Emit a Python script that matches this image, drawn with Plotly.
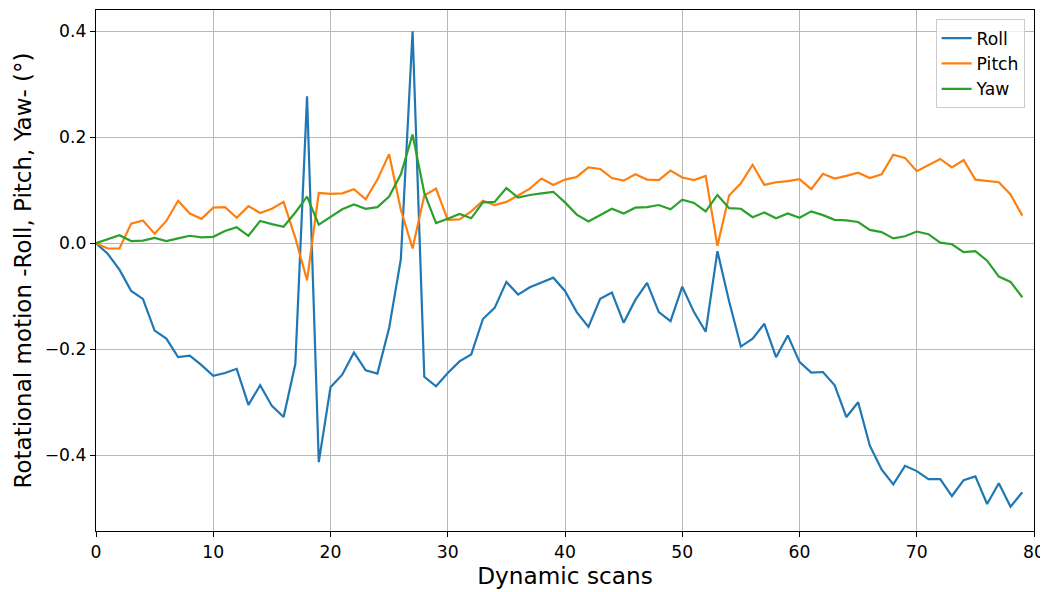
import plotly.graph_objects as go

scans = list(range(80))
roll = [0, -0.02, -0.05, -0.09, -0.105, -0.165, -0.18, -0.215, -0.212, -0.23,
        -0.25, -0.245, -0.237, -0.305, -0.268, -0.307, -0.328, -0.228, 0.277, -0.413,
        -0.272, -0.248, -0.206, -0.24, -0.246, -0.16, -0.03, 0.4, -0.252, -0.27,
        -0.245, -0.223, -0.21, -0.143, -0.122, -0.073, -0.097, -0.083, -0.074, -0.065,
        -0.09, -0.13, -0.158, -0.105, -0.093, -0.15, -0.107, -0.075, -0.13, -0.147,
        -0.082, -0.13, -0.167, -0.015, -0.11, -0.195, -0.18, -0.152, -0.215, -0.174,
        -0.224, -0.244, -0.243, -0.268, -0.328, -0.3, -0.382, -0.427, -0.455, -0.42,
        -0.43, -0.445, -0.445, -0.477, -0.447, -0.44, -0.492, -0.453, -0.497, -0.47]
pitch = [0, -0.01, -0.01, 0.037, 0.043, 0.018, 0.042, 0.08, 0.056, 0.046,
         0.067, 0.068, 0.048, 0.07, 0.057, 0.065, 0.078, 0.01, -0.07, 0.095,
         0.093, 0.094, 0.102, 0.083, 0.12, 0.168, 0.063, -0.01, 0.09, 0.103,
         0.044, 0.045, 0.06, 0.08, 0.072, 0.078, 0.09, 0.103, 0.122, 0.11,
         0.12, 0.125, 0.143, 0.14, 0.123, 0.118, 0.13, 0.12, 0.119, 0.137,
         0.124, 0.119, 0.127, -0.005, 0.09, 0.113, 0.148, 0.11, 0.115, 0.117,
         0.121, 0.102, 0.131, 0.122, 0.127, 0.133, 0.123, 0.13, 0.167, 0.161,
         0.136, 0.147, 0.159, 0.143, 0.157, 0.12, 0.118, 0.115, 0.092, 0.052]
yaw = [0, 0.008, 0.015, 0.004, 0.005, 0.01, 0.004, 0.009, 0.014, 0.011,
       0.012, 0.023, 0.03, 0.014, 0.042, 0.036, 0.031, 0.058, 0.088, 0.035,
       0.05, 0.064, 0.073, 0.065, 0.068, 0.088, 0.13, 0.205, 0.095, 0.038,
       0.046, 0.055, 0.047, 0.077, 0.078, 0.104, 0.086, 0.091, 0.094, 0.097,
       0.077, 0.054, 0.041, 0.053, 0.065, 0.056, 0.067, 0.068, 0.072, 0.064,
       0.082, 0.076, 0.06, 0.091, 0.066, 0.065, 0.049, 0.058, 0.047, 0.056,
       0.048, 0.06, 0.053, 0.044, 0.043, 0.04, 0.025, 0.021, 0.009, 0.013,
       0.022, 0.017, 0.001, -0.002, -0.017, -0.015, -0.033, -0.063, -0.073, -0.102]

series_names = ["Roll", "Pitch", "Yaw"]
colors = ["#1f77b4", "#ff7f0e", "#2ca02c"]
x_ticks = [0, 10, 20, 30, 40, 50, 60, 70, 80]
y_ticks = [-0.4, -0.2, 0.0, 0.2, 0.4]
y_ticklabels = ["\u22120.4", "\u22120.2", "0.0", "0.2", "0.4"]

font = "DejaVu Sans"
fig = go.Figure()
for name, vals, col in zip(series_names, [roll, pitch, yaw], colors):
    fig.add_trace(go.Scatter(x=scans, y=vals, mode="lines", name=name,
                             line=dict(color=col, width=2.2)))

axis_common = dict(showline=True, linecolor="black", linewidth=1.2, mirror=True,
                   ticks="outside", ticklen=5, tickcolor="black",
                   showgrid=True, gridcolor="#b8b8b8", gridwidth=1, zeroline=False,
                   tickfont=dict(family=font, size=17.2, color="black"))
fig.update_xaxes(range=[0, 80], tickvals=x_ticks,
                 title=dict(text="Dynamic scans", font=dict(family=font, size=23.2, color="black"), standoff=5),
                 **axis_common)
fig.update_yaxes(range=[-0.543, 0.44], tickvals=y_ticks, ticktext=y_ticklabels,
                 title=dict(text="Rotational motion -Roll, Pitch, Yaw- (°)", font=dict(family=font, size=23, color="black"), standoff=6),
                 **axis_common)
fig.update_layout(width=1040, height=584, plot_bgcolor="white", paper_bgcolor="white",
                  margin=dict(l=88, r=14, t=2, b=61),
                  font=dict(family=font, color="black"),
                  legend=dict(x=0.99, y=0.982, xanchor="right", yanchor="top",
                              bgcolor="rgba(255,255,255,0.8)", bordercolor="#cccccc", borderwidth=1,
                              font=dict(family=font, size=17.2, color="black")))
fig.write_html("out.html")
